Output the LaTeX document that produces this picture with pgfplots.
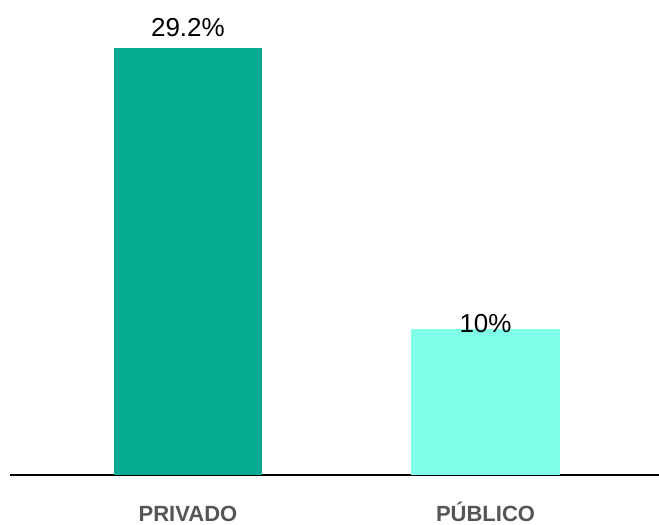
\documentclass[border=0pt]{standalone}
\usepackage{pgfplots}
\pgfplotsset{compat=1.18}
\usepackage{fontspec}
\setmainfont{Liberation Sans}
\definecolor{darkteal}{RGB}{6,170,145}
\definecolor{lightaqua}{RGB}{127,255,232}
\definecolor{lblgray}{RGB}{85,85,85}
\begin{document}
\begin{tikzpicture}
\path[use as bounding box] (-10pt,-50pt) rectangle (649pt,475pt);
\begin{axis}[
  scale only axis,
  width=649pt, height=475pt,
  xmin=-0.598, xmax=1.583,
  ymin=0, ymax=32.49,
  axis x line=bottom,
  axis y line=none,
  x axis line style={-, line width=1.5pt, black},
  xtick={0,1},
  xticklabels={PRIVADO,PÚBLICO},
  major tick length=0pt,
  xticklabel style={anchor=base, inner sep=0pt, yshift=-46pt, font=\fontsize{22}{24}\selectfont\bfseries, text=lblgray},
  ytick=\empty,
  clip=false,
]
\addplot[ybar, bar width=0.4975, fill=darkteal, draw=none] coordinates {(0,29.2)};
\addplot[ybar, bar width=0.4975, fill=lightaqua, draw=none] coordinates {(1,10)};
\addplot[only marks, mark=none, point meta=explicit symbolic,
  nodes near coords, nodes near coords align={anchor=base},
  every node near coord/.append style={anchor=base, inner sep=0pt, font=\fontsize{26}{30}\selectfont, text=black}]
  coordinates {(0,29.96)[29.2\%] (1,9.78)[10\%]};
\end{axis}
\end{tikzpicture}
\end{document}
